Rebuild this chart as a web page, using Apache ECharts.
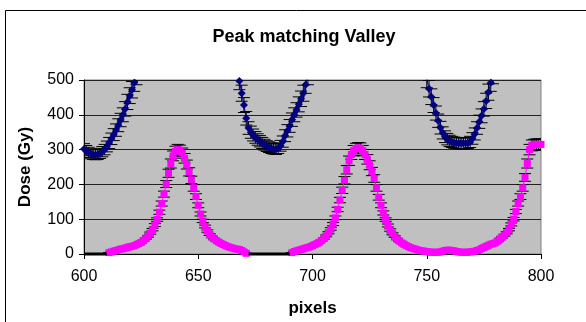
<!DOCTYPE html>
<html>
<head>
<meta charset="utf-8">
<script src="https://cdn.jsdelivr.net/npm/echarts@6/dist/echarts.min.js"></script>
<style>
  html, body { margin: 0; padding: 0; background: #fff; }
  #chart { width: 586px; height: 322px; }
</style>
</head>
<body>
<div id="chart"></div>
<script>
// Dose profiles along the detector row, one value per pixel from 600 to 800.
const FIRST_PIXEL = 600;

// Valley curve (navy diamonds); null where the dose runs well above the 500 Gy axis.
const valleyDose = [
  302, 297, 292, 288, 286, 285, 286, 289, 294, 300,            // 600-609
  309, 319, 331, 343, 356, 370, 385, 400, 417, 437,            // 610-619
  455, 472, 492, 512, null, null, null, null, null, null,      // 620-629
  null, null, null, null, null, null, null, null, null, null,  // 630-639
  null, null, null, null, null, null, null, null, null, null,  // 640-649
  null, null, null, null, null, null, null, null, null, null,  // 650-659
  null, null, null, null, null, null, null, 530, 497, 462,     // 660-669
  428, 390, 362, 350, 342, 335, 329, 324, 319, 314,            // 670-679
  310, 307, 304, 302, 301, 304, 311, 323, 340, 354,            // 680-689
  368, 386, 400, 414, 430, 446, 462, 486, 512, null,           // 690-699
  null, null, null, null, null, null, null, null, null, null,  // 700-709
  null, null, null, null, null, null, null, null, null, null,  // 710-719
  null, null, null, null, null, null, null, null, null, null,  // 720-729
  null, null, null, null, null, null, null, null, null, null,  // 730-739
  null, null, null, null, null, null, null, null, null, null,  // 740-749
  503, 475, 452, 428, 405, 383, 363, 348, 337, 330,            // 750-759
  325, 322, 320, 319, 318, 318, 318, 318, 319, 322,            // 760-769
  332, 345, 362, 380, 397, 417, 440, 465, 492, 515,            // 770-779
  null, null, null, null, null, null, null, null, null, null,  // 780-789
  null, null, null, null, null, null, null, null, null, null,  // 790-799
  null                                                         // 800
];

// Peak curve (magenta squares); null where no value was recorded.
const peakDose = [
  null, null, null, null, null, null, null, null, null, null,  // 600-609
  null, 4, 6, 8, 10, 12, 14, 15, 17, 19,                       // 610-619
  21, 22, 24, 27, 30, 33, 38, 44, 51, 60,                      // 620-629
  70, 83, 99, 120, 145, 172, 201, 232, 260, 282,               // 630-639
  295, 300, 298, 290, 275, 257, 236, 213, 190, 165,            // 640-649
  140, 115, 95, 79, 66, 56, 49, 43, 38, 34,                    // 650-659
  30, 27, 24, 21, 19, 17, 15, 14, 13, 10,                      // 660-669
  6, 2, null, null, null, null, null, null, null, null,        // 670-679
  null, null, null, null, null, null, null, null, null, null,  // 680-689
  null, 4, 7, 9, 11, 13, 15, 17, 19, 21,                       // 690-699
  24, 27, 30, 34, 39, 45, 52, 61, 72, 86,                      // 700-709
  104, 128, 155, 183, 212, 242, 268, 286, 297, 303,            // 710-719
  305, 304, 297, 286, 272, 255, 237, 217, 190, 163,            // 720-729
  140, 118, 99, 82, 69, 58, 50, 43, 37, 32,                    // 730-739
  28, 24, 21, 18, 16, 14, 12, 10, 9, 8,                        // 740-749
  7, 6, 5, 5, 5, 5, 6, 8, 10, 11,                              // 750-759
  11, 10, 9, 7, 6, 5, 5, 5, 5, 6,                              // 760-769
  7, 8, 10, 12, 16, 19, 22, 25, 28, 30,                        // 770-779
  32, 37, 43, 48, 54, 61, 70, 85, 100, 122,                    // 780-789
  145, 165, 190, 220, 260, 300, 312, 314, 315, 315,            // 790-799
  315                                                          // 800
];

// Stretches of the row that sit flat on zero (start pixel, end pixel).
const zeroRuns = [[600, 610], [672, 690]];

// Axis ticks.
const xTicks = [600, 650, 700, 750, 800];
const yTicks = [0, 100, 200, 300, 400, 500];

// Relative size of the error bars drawn on every point.
const ERROR_FRACTION = 0.05;

const FONT = '"Liberation Sans", Arial, sans-serif';

function toPoints(values) {
  const pts = [];
  values.forEach((v, i) => { pts.push([FIRST_PIXEL + i, v == null ? '-' : v]); });
  return pts;
}
function toValidPoints(values) {
  const pts = [];
  values.forEach((v, i) => { if (v != null) pts.push([FIRST_PIXEL + i, v]); });
  return pts;
}

function errorBarSeries(values) {
  return {
    type: 'custom',
    clip: true,
    z: 2,
    silent: true,
    data: toValidPoints(values),
    renderItem: function (params, api) {
      const x = api.value(0);
      const v = api.value(1);
      const hi = api.coord([x, v * (1 + ERROR_FRACTION)]);
      const lo = api.coord([x, v * (1 - ERROR_FRACTION)]);
      const capHalf = 6;
      const style = { stroke: '#000', lineWidth: 1 };
      return {
        type: 'group',
        children: [
          { type: 'line', shape: { x1: hi[0], y1: hi[1], x2: lo[0], y2: lo[1] }, style: style },
          { type: 'line', shape: { x1: hi[0] - capHalf, y1: hi[1], x2: hi[0] + capHalf, y2: hi[1] }, style: style },
          { type: 'line', shape: { x1: lo[0] - capHalf, y1: lo[1], x2: lo[0] + capHalf, y2: lo[1] }, style: style }
        ]
      };
    }
  };
}

const chart = echarts.init(document.getElementById('chart'), null, { renderer: 'canvas' });

const series = [
  errorBarSeries(valleyDose),
  errorBarSeries(peakDose),
  {
    name: 'Valley',
    type: 'line',
    data: toPoints(valleyDose),
    symbol: 'diamond',
    symbolSize: 8,
    showAllSymbol: true,
    clip: true,
    connectNulls: false,
    z: 3,
    lineStyle: { color: '#000080', width: 1 },
    itemStyle: { color: '#000080' },
    animation: false
  },
  {
    name: 'Peak',
    type: 'line',
    data: toPoints(peakDose),
    symbol: 'rect',
    symbolSize: 7,
    showAllSymbol: true,
    clip: true,
    connectNulls: false,
    z: 3,
    lineStyle: { color: '#FF00FF', width: 1 },
    itemStyle: { color: '#FF00FF' },
    animation: false
  }
];

zeroRuns.forEach(run => {
  series.push({
    type: 'line',
    data: [[run[0], 0], [run[1], 0]],
    symbol: 'none',
    clip: false,
    z: 4,
    lineStyle: { color: '#000', width: 3 },
    animation: false
  });
});

chart.setOption({
  animation: false,
  title: {
    text: 'Peak matching Valley',
    left: 299,
    top: 23,
    textAlign: 'center',
    textStyle: { fontFamily: FONT, fontWeight: 'bold', fontSize: 18, color: '#000' }
  },
  graphic: [
    {
      type: 'rect',
      shape: { x: 5.5, y: 10.5, width: 700, height: 400 },
      style: { fill: 'none', stroke: '#000', lineWidth: 1 },
      z: 0
    }
  ],
  grid: {
    left: 84,
    right: 45,
    top: 80,
    bottom: 67,
    show: true,
    backgroundColor: '#C0C0C0',
    borderColor: '#808080',
    borderWidth: 1
  },
  xAxis: {
    type: 'value',
    min: xTicks[0],
    max: xTicks[xTicks.length - 1],
    interval: xTicks[1] - xTicks[0],
    name: 'pixels',
    nameLocation: 'middle',
    nameGap: 46,
    nameTextStyle: { fontFamily: FONT, fontWeight: 'bold', fontSize: 17, color: '#000' },
    axisLine: { lineStyle: { color: '#000', width: 1 } },
    axisTick: { show: true, length: 5, lineStyle: { color: '#000' } },
    axisLabel: { fontFamily: FONT, fontSize: 16, color: '#000', margin: 15 },
    splitLine: { show: false }
  },
  yAxis: {
    type: 'value',
    min: yTicks[0],
    max: yTicks[yTicks.length - 1],
    interval: yTicks[1] - yTicks[0],
    name: 'Dose (Gy)',
    nameLocation: 'middle',
    nameGap: 50,
    nameTextStyle: { fontFamily: FONT, fontWeight: 'bold', fontSize: 17, color: '#000' },
    axisLine: { show: true, lineStyle: { color: '#000', width: 1 } },
    axisTick: { show: true, length: 5, lineStyle: { color: '#000' } },
    axisLabel: { fontFamily: FONT, fontSize: 16, color: '#000', margin: 10 },
    splitLine: { show: true, lineStyle: { color: '#222', width: 1 } }
  },
  series: series
});
</script>
</body>
</html>
